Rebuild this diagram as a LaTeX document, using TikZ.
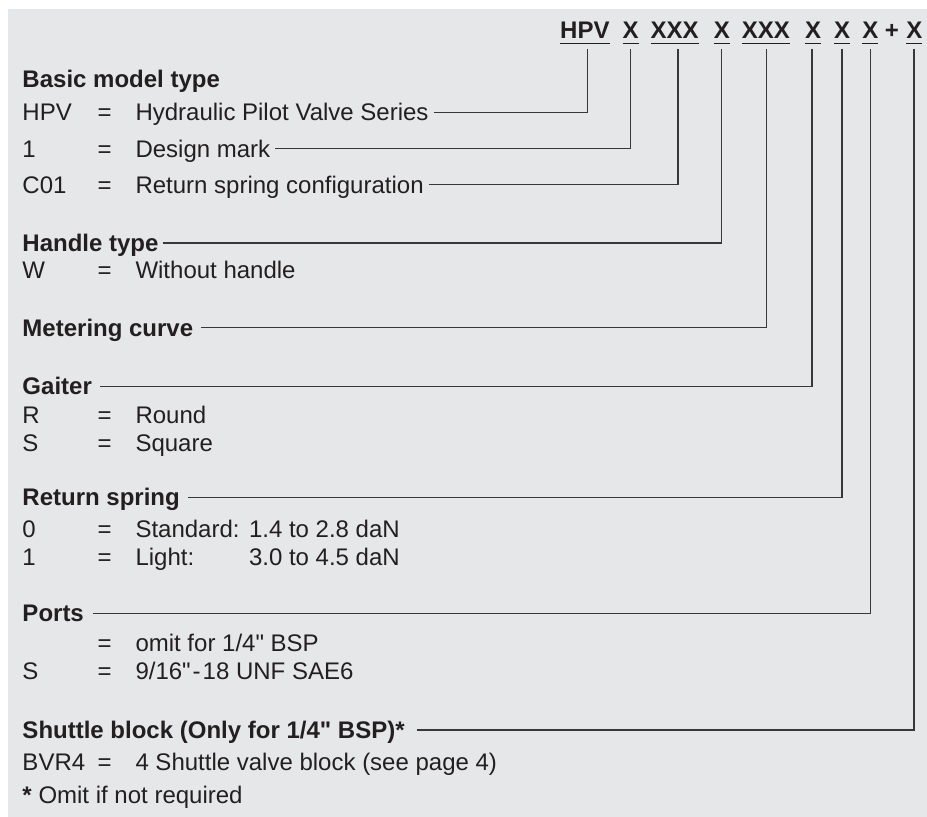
\documentclass[tikz,border=0pt]{standalone}
\usepackage{fontspec}
\setmainfont{Liberation Sans}[Ligatures=TeXOff]
\definecolor{bggrey}{HTML}{E6E7E8}
\definecolor{ink}{HTML}{231F20}
\definecolor{rulec}{HTML}{38383A}
\tikzset{
  txt/.style={anchor=base west, inner sep=0pt, outer sep=0pt, text=ink, font=\fontsize{24}{28}\selectfont},
  hd/.style={txt, font=\fontsize{24}{28}\selectfont\bfseries},
  tok/.style={anchor=base, inner sep=0pt, outer sep=0pt, text=ink, font=\fontsize{24}{28}\selectfont\bfseries},
  conn/.style={draw=rulec, line width=1.3pt},
  uline/.style={draw=ink, line width=1.5pt}
}
\begin{document}
\begin{tikzpicture}[x=1pt,y=-1pt]
\useasboundingbox (0,0) rectangle (927,817);
\fill[bggrey] (8,9.3) rectangle (927,817);

% header code
\node[tok] (tH)  at (584.9,38.3) {HPV};
\node[tok] (tA)  at (630.7,38.3) {X};
\node[tok] (tB)  at (674.7,38.3) {XXX};
\node[tok] (tC)  at (721.9,38.3) {X};
\node[tok] (tD)  at (765.9,38.3) {XXX};
\node[tok] (tE)  at (813.0,38.3) {X};
\node[tok] (tF)  at (842.0,38.3) {X};
\node[tok] (tG)  at (870.4,38.3) {X};
\node[tok] (tP)  at (891.9,38.3) {+};
\node[tok] (tI)  at (914.4,38.3) {X};
\foreach \n in {tH,tA,tB,tC,tD,tE,tF,tG,tI}
  \draw[uline] ([yshift=-5pt]\n.base west) -- ([yshift=-5pt]\n.base east);

\coordinate (v1) at (587.3,48.5);
\coordinate (v2) at (630.7,48.5);
\coordinate (v3) at (678.0,48.5);
\coordinate (v4) at (721.3,48.5);
\coordinate (v5) at (766.7,48.5);
\coordinate (v6) at (812.0,48.5);
\coordinate (v7) at (842.0,48.5);
\coordinate (v8) at (870.7,48.5);
\coordinate (v9) at (914.0,48.5);

% Basic model type
\node[hd] (basic) at (22.5,87.5) {Basic model type};
\node[txt] (hpvK) at (22.5,120.8) {HPV};
\node[txt] (hpvE) at (97.6,120.8) {=};
\node[txt] (hpvT) at (135.5,120.8) {Hydraulic Pilot Valve Series};
\node[txt] (dmK) at (22.5,157.2) {1};
\node[txt] (dmE) at (97.6,157.2) {=};
\node[txt] (dmT) at (135.5,157.2) {Design mark};
\node[txt] (c01K) at (22.5,193.2) {C01};
\node[txt] (c01E) at (97.6,193.2) {=};
\node[txt] (c01T) at (135.5,193.2) {Return spring configuration};

% Handle type
\node[hd] (handle) at (22.5,251.5) {Handle type};
\node[txt] (wK) at (22.5,278) {W};
\node[txt] (wE) at (97.6,278) {=};
\node[txt] (wT) at (135.5,278) {Without handle};

% Metering curve
\node[hd] (meter) at (22.5,336.2) {Metering curve};

% Gaiter
\node[hd] (gaiter) at (22.5,394.8) {Gaiter};
\node[txt] (rK) at (22.5,423) {R};
\node[txt] (rE) at (97.6,423) {=};
\node[txt] (rT) at (135.5,423) {Round};
\node[txt] (sK) at (22.5,451.5) {S};
\node[txt] (sE) at (97.6,451.5) {=};
\node[txt] (sT) at (135.5,451.5) {Square};

% Return spring
\node[hd] (rets) at (22.5,505.8) {Return spring};
\node[txt] (zK) at (22.5,537.5) {0};
\node[txt] (zE) at (97.6,537.5) {=};
\node[txt] (zT) at (135.5,537.5) {Standard:};
\node[txt] (zV) at (249,537.5) {1.4 to 2.8 daN};
\node[txt] (oK) at (22.5,565) {1};
\node[txt] (oE) at (97.6,565) {=};
\node[txt] (oT) at (135.5,565) {Light:};
\node[txt] (oV) at (249,565) {3.0 to 4.5 daN};

% Ports
\node[hd] (ports) at (22.5,621.8) {Ports};
\node[txt] (p1E) at (97.6,651) {=};
\node[txt] (p1T) at (135.5,651) {omit for 1/4" BSP};
\node[txt] (p2K) at (22.5,679.5) {S};
\node[txt] (p2E) at (97.6,679.5) {=};
\node[txt] (p2T) at (135.5,679.5) {9/16"\kern2pt-\kern2pt18 UNF SAE6};

% Shuttle block
\node[hd] (shut) at (22.5,738.5) {Shuttle block (Only for 1/4" BSP)*};
\node[txt] (bK) at (22.5,770) {BVR4};
\node[txt] (bE) at (97.6,770) {=};
\node[txt] (bT) at (135.5,770) {4 Shuttle valve block (see page 4)};
\node[txt] (note) at (22.5,803) {\textbf{*} Omit if not required};

% connectors
\draw[conn] ([xshift=5pt,yshift=8.5pt]hpvT.base east) -| (v1);
\draw[conn] ([xshift=5pt,yshift=8.5pt]dmT.base east) -| (v2);
\draw[conn] ([xshift=5pt,yshift=8.5pt]c01T.base east) -| (v3);
\draw[conn] ([xshift=4pt,yshift=8.5pt]handle.base east) -| (v4);
\draw[conn] ([xshift=8pt,yshift=8.5pt]meter.base east) -| (v5);
\draw[conn] ([xshift=8pt,yshift=8.5pt]gaiter.base east) -| (v6);
\draw[conn] ([xshift=8pt,yshift=8.5pt]rets.base east) -| (v7);
\draw[conn] ([xshift=9pt,yshift=8.5pt]ports.base east) -| (v8);
\draw[conn] ([xshift=12pt,yshift=8.5pt]shut.base east) -| (v9);
\end{tikzpicture}
\end{document}
